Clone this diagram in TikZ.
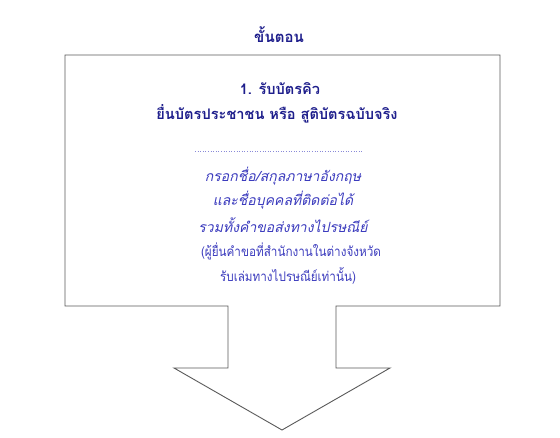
\documentclass[tikz,border=0pt]{standalone}
\usepackage{fontspec}
\newfontfamily\thaifont[Script=Thai]{Loma}
\newfontfamily\thaicond[Script=Thai,FakeStretch=0.88]{Loma}
\definecolor{navy}{RGB}{30,30,140}
\definecolor{itblue}{RGB}{60,60,190}
\definecolor{boxgray}{RGB}{90,90,90}
\begin{document}
\begin{tikzpicture}[x=1pt,y=-1pt,
  title/.style={font=\thaifont\bfseries\fontsize{15}{17}\selectfont, text=navy, inner sep=0},
  head/.style={font=\thaifont\bfseries\fontsize{14.6}{17}\selectfont, text=navy, inner sep=0},
  itl/.style={font=\thaifont\itshape\fontsize{14}{16}\selectfont, text=itblue, inner sep=0},
  plain/.style={font=\thaicond\fontsize{13.3}{15}\selectfont, text=itblue, inner sep=0},
  outline/.style={draw=boxgray, line width=0.9pt, fill=white}]
\useasboundingbox (0,0) rectangle (560,438);
\fill[white] (0,0) rectangle (560,438);
% block arrow shape
\draw[outline, line join=miter]
  (65,55) -- (500,55) -- (500,306) -- (336,306) -- (336,368) -- (390,368)
  -- (282,430) -- (174,368) -- (228,368) -- (228,306) -- (65,306) -- cycle;
\node[title] (t) at (279,35) {ขั้นตอน};
\node[head] (h1) at (280,89) {1. รับบัตรคิว};
\node[head] (h2) at (277,114) {ยื่นบัตรประชาชน หรือ สูติบัตรฉบับจริง};
\coordinate (d1) at (195,151);
\coordinate (d2) at (362,151);
\draw[itblue!60, dotted, line width=0.6pt] (d1) -- (d2);
\node[itl] (l1) at (283,176) {กรอกชื่อ/สกุลภาษาอังกฤษ};
\node[itl] (l2) at (283,200) {และชื่อบุคคลที่ติดต่อได้};
\node[itl] (l3) at (283,225) {รวมทั้งคำขอส่งทางไปรษณีย์};
\node[plain] (l4) at (291,251) {(ผู้ยื่นคำขอที่สำนักงานในต่างจังหวัด};
\node[plain] (l5) at (288,276) {รับเล่มทางไปรษณีย์เท่านั้น)};
\end{tikzpicture}
\end{document}
